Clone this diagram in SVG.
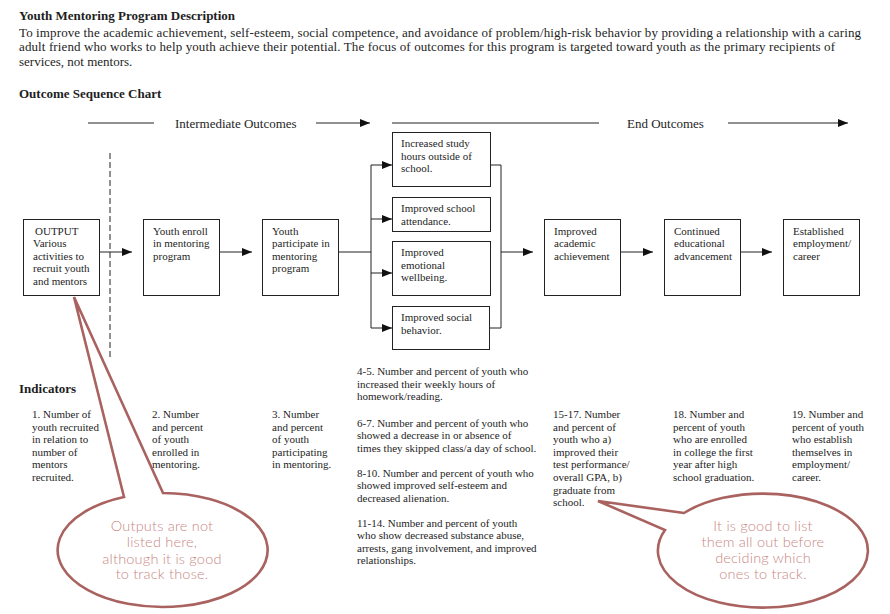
<svg xmlns="http://www.w3.org/2000/svg" width="890" height="614" viewBox="0 0 890 614">
<style>
text{font-family:"Liberation Serif","Times New Roman",serif;fill:#1e1e1e}
.t{font-size:11px}
.p{font-size:13px}
.b{font-size:13px;font-weight:bold}
.box{fill:#fff;stroke:#222;stroke-width:1}
.ln{stroke:#222;stroke-width:1;fill:none}
.co{fill:#fff;stroke:#a9625f;stroke-width:2.6;stroke-linejoin:miter}
.ct{font-family:"Lato","Open Sans","DejaVu Sans",sans-serif;font-size:14.5px;font-weight:300;letter-spacing:0.2px;fill:#c98784;text-anchor:middle}
</style>
<defs>
<marker id="ah" viewBox="0 0 10 8" refX="10" refY="4" markerWidth="10" markerHeight="8" markerUnits="userSpaceOnUse" orient="auto">
<path d="M0,0 L10,4 L0,8 Z" fill="#111"/>
</marker>
</defs>
<rect width="890" height="614" fill="#fff"/>

<g id="header">
<text class="b" x="19" y="20">Youth Mentoring Program Description</text>
<text class="p" x="19" y="36.5" textLength="842" lengthAdjust="spacing">To improve the academic achievement, self-esteem, social competence, and avoidance of problem/high-risk behavior by providing a relationship with a caring</text>
<text class="p" x="19" y="51" textLength="816" lengthAdjust="spacing">adult friend who works to help youth achieve their potential. The focus of outcomes for this program is targeted toward youth as the primary recipients of</text>
<text class="p" x="19" y="65.5">services, not mentors.</text>
<text class="b" x="19" y="97.5">Outcome Sequence Chart</text>
</g>

<g id="phase-labels">
<line class="ln" x1="88" y1="123" x2="154" y2="123"/>
<text class="p" x="175" y="127.5">Intermediate Outcomes</text>
<line class="ln" x1="316" y1="123" x2="370" y2="123" marker-end="url(#ah)"/>
<line class="ln" x1="392" y1="123" x2="599" y2="123"/>
<text class="p" x="627" y="127.5">End Outcomes</text>
<line class="ln" x1="728" y1="123" x2="848" y2="123" marker-end="url(#ah)"/>
<line class="ln" x1="110" y1="153" x2="110" y2="360" stroke-dasharray="6,3"/>
</g>

<g id="connectors">
<line class="ln" x1="99" y1="252" x2="132" y2="252" marker-end="url(#ah)"/>
<line class="ln" x1="219" y1="252" x2="252" y2="252" marker-end="url(#ah)"/>
<polyline class="ln" points="338,252 371,252"/>
<line class="ln" x1="371" y1="165" x2="371" y2="328"/>
<line class="ln" x1="371" y1="165" x2="392" y2="165" marker-end="url(#ah)"/>
<line class="ln" x1="371" y1="219" x2="392" y2="219" marker-end="url(#ah)"/>
<line class="ln" x1="371" y1="273" x2="392" y2="273" marker-end="url(#ah)"/>
<line class="ln" x1="371" y1="328" x2="392" y2="328" marker-end="url(#ah)"/>
<polyline class="ln" points="491,165 501,165 501,328 490,328"/>
<line class="ln" x1="501" y1="252" x2="533" y2="252" marker-end="url(#ah)"/>
<line class="ln" x1="621" y1="252" x2="653" y2="252" marker-end="url(#ah)"/>
<line class="ln" x1="740" y1="252" x2="772" y2="252" marker-end="url(#ah)"/>
</g>

<g id="output">
<rect class="box" x="23.5" y="219.5" width="76" height="76"/>
<text class="t" x="33" y="234.5"><tspan x="35">OUTPUT</tspan><tspan x="33" dy="12.6">Various</tspan><tspan x="33" dy="12.6">activities to</tspan><tspan x="33" dy="12.6">recruit youth</tspan><tspan x="33" dy="12.6">and mentors</tspan></text>
</g>
<g id="enroll">
<rect class="box" x="143.5" y="219.5" width="76" height="76"/>
<text class="t" x="153" y="234.5"><tspan x="153">Youth enroll</tspan><tspan x="153" dy="12.6">in mentoring</tspan><tspan x="153" dy="12.6">program</tspan></text>
</g>
<g id="participate">
<rect class="box" x="262.5" y="219.5" width="76" height="76"/>
<text class="t" x="272" y="234.5"><tspan x="272">Youth</tspan><tspan x="272" dy="12.6">participate in</tspan><tspan x="272" dy="12.6">mentoring</tspan><tspan x="272" dy="12.6">program</tspan></text>
</g>
<g id="study-hours">
<rect class="box" x="392.5" y="132.5" width="98" height="54"/>
<text class="t" x="401" y="147"><tspan x="401">Increased study</tspan><tspan x="401" dy="12.6">hours outside of</tspan><tspan x="401" dy="12.6">school.</tspan></text>
</g>
<g id="attendance">
<rect class="box" x="392.5" y="197.5" width="98" height="34"/>
<text class="t" x="401" y="212"><tspan x="401">Improved school</tspan><tspan x="401" dy="12.6">attendance.</tspan></text>
</g>
<g id="wellbeing">
<rect class="box" x="392.5" y="241.5" width="98" height="54"/>
<text class="t" x="401" y="256"><tspan x="401">Improved</tspan><tspan x="401" dy="12.6">emotional</tspan><tspan x="401" dy="12.6">wellbeing.</tspan></text>
</g>
<g id="social">
<rect class="box" x="392.5" y="306.5" width="97" height="43"/>
<text class="t" x="401" y="321"><tspan x="401">Improved social</tspan><tspan x="401" dy="12.6">behavior.</tspan></text>
</g>
<g id="academic">
<rect class="box" x="544.5" y="219.5" width="76" height="76"/>
<text class="t" x="554" y="234.5"><tspan x="554">Improved</tspan><tspan x="554" dy="12.6">academic</tspan><tspan x="554" dy="12.6">achievement</tspan></text>
</g>
<g id="educational">
<rect class="box" x="664.5" y="219.5" width="76" height="76"/>
<text class="t" x="674" y="234.5"><tspan x="674">Continued</tspan><tspan x="674" dy="12.6">educational</tspan><tspan x="674" dy="12.6">advancement</tspan></text>
</g>
<g id="employment">
<rect class="box" x="783.5" y="219.5" width="76" height="76"/>
<text class="t" x="793" y="234.5"><tspan x="793">Established</tspan><tspan x="793" dy="12.6">employment/</tspan><tspan x="793" dy="12.6">career</tspan></text>
</g>

<g id="indicators">
<text class="b" x="19" y="392.5">Indicators</text>
<text class="t" y="418"><tspan x="32">1. Number of</tspan><tspan x="32" dy="12.6">youth recruited</tspan><tspan x="32" dy="12.6">in relation to</tspan><tspan x="32" dy="12.6">number of</tspan><tspan x="32" dy="12.6">mentors</tspan><tspan x="32" dy="12.6">recruited.</tspan></text>
<text class="t" y="418"><tspan x="152">2. Number</tspan><tspan x="152" dy="12.6">and percent</tspan><tspan x="152" dy="12.6">of youth</tspan><tspan x="152" dy="12.6">enrolled in</tspan><tspan x="152" dy="12.6">mentoring.</tspan></text>
<text class="t" y="418"><tspan x="272">3. Number</tspan><tspan x="272" dy="12.6">and percent</tspan><tspan x="272" dy="12.6">of youth</tspan><tspan x="272" dy="12.6">participating</tspan><tspan x="272" dy="12.6">in mentoring.</tspan></text>
<text class="t" y="375"><tspan x="357">4-5. Number and percent of youth who</tspan><tspan x="357" dy="12.6">increased their weekly hours of</tspan><tspan x="357" dy="12.6">homework/reading.</tspan></text>
<text class="t" y="426.5"><tspan x="357">6-7. Number and percent of youth who</tspan><tspan x="357" dy="12.6">showed a decrease in or absence of</tspan><tspan x="357" dy="12.6">times they skipped class/a day of school.</tspan></text>
<text class="t" y="476.5"><tspan x="357">8-10. Number and percent of youth who</tspan><tspan x="357" dy="12.6">showed improved self-esteem and</tspan><tspan x="357" dy="12.6">decreased alienation.</tspan></text>
<text class="t" y="526.5"><tspan x="357">11-14. Number and percent of youth</tspan><tspan x="357" dy="12.6">who show decreased substance abuse,</tspan><tspan x="357" dy="12.6">arrests, gang involvement, and improved</tspan><tspan x="357" dy="12.6">relationships.</tspan></text>
<text class="t" y="418"><tspan x="553">15-17. Number</tspan><tspan x="553" dy="12.6">and percent of</tspan><tspan x="553" dy="12.6">youth who a)</tspan><tspan x="553" dy="12.6">improved their</tspan><tspan x="553" dy="12.6">test performance/</tspan><tspan x="553" dy="12.6">overall GPA, b)</tspan><tspan x="553" dy="12.6">graduate from</tspan><tspan x="553" dy="12.6">school.</tspan></text>
<text class="t" y="418"><tspan x="673">18. Number and</tspan><tspan x="673" dy="12.6">percent of youth</tspan><tspan x="673" dy="12.6">who are enrolled</tspan><tspan x="673" dy="12.6">in college the first</tspan><tspan x="673" dy="12.6">year after high</tspan><tspan x="673" dy="12.6">school graduation.</tspan></text>
<text class="t" y="418"><tspan x="792">19. Number and</tspan><tspan x="792" dy="12.6">percent of youth</tspan><tspan x="792" dy="12.6">who establish</tspan><tspan x="792" dy="12.6">themselves in</tspan><tspan x="792" dy="12.6">employment/</tspan><tspan x="792" dy="12.6">career.</tspan></text>
</g>

<g id="callout-outputs">
<path class="co" d="M124,497 L74,297 L163,493 A105,57 0 1 1 124,497 Z"/>
<text class="ct" y="531"><tspan x="162">Outputs are not</tspan><tspan x="162" dy="16">listed here,</tspan><tspan x="162" dy="16.5">although it is good</tspan><tspan x="162" dy="15.5">to track those.</tspan></text>
</g>
<g id="callout-list">
<path class="co" d="M684,513 L598,501 L665,530 A105,57 0 1 0 684,513 Z"/>
<text class="ct" y="531"><tspan x="763">It is good to list</tspan><tspan x="763" dy="16">them all out before</tspan><tspan x="763" dy="16">deciding which</tspan><tspan x="763" dy="16">ones to track.</tspan></text>
</g>
</svg>
